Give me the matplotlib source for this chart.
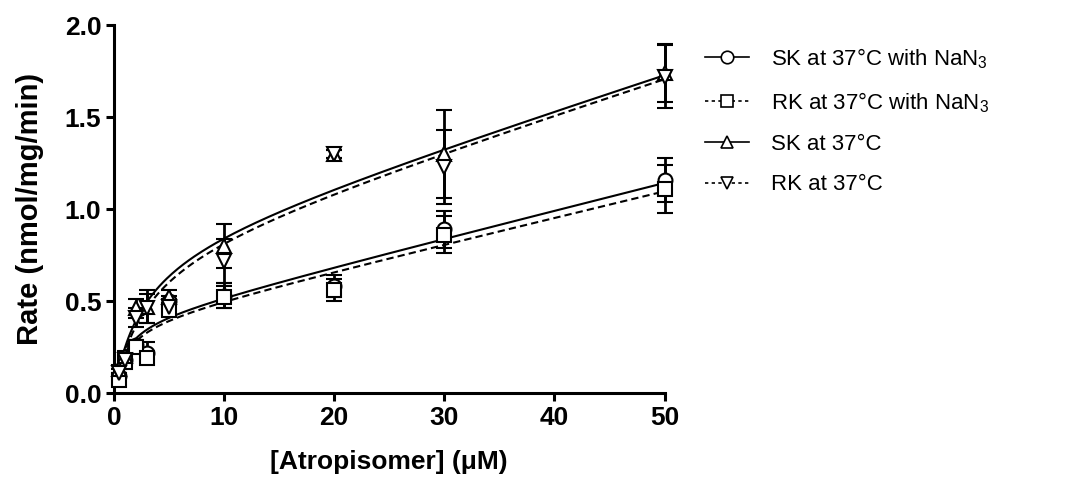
import numpy as np
import matplotlib
matplotlib.use('Agg')
import matplotlib.pyplot as plt
from matplotlib.lines import Line2D

plt.rcParams['font.family'] = ['Liberation Sans', 'DejaVu Sans']
plt.rcParams['mathtext.fontset'] = 'custom'
plt.rcParams['mathtext.rm'] = 'Liberation Sans'
plt.rcParams['mathtext.it'] = 'Liberation Sans'

# concentrations (uM)
conc = [0.5, 1, 2, 3, 5, 10, 20, 30, 50]

labels = ['SK at 37°C with NaN$_3$', 'RK at 37°C with NaN$_3$',
          'SK at 37°C', 'RK at 37°C']

sk_nan3 = [0.09, 0.18, 0.26, 0.22, 0.50, 0.53, 0.58, 0.89, 1.16]
sk_nan3_err = [0.02, 0.02, 0.03, 0.06, 0.03, 0.07, 0.06, 0.10, 0.12]
rk_nan3 = [0.07, 0.17, 0.25, 0.19, 0.45, 0.52, 0.56, 0.86, 1.11]
rk_nan3_err = [0.02, 0.02, 0.03, 0.03, 0.03, 0.06, 0.06, 0.10, 0.13]
sk = [0.13, 0.20, 0.46, 0.47, 0.52, 0.80, 1.30, 1.30, 1.74]
sk_err = [0.02, 0.03, 0.05, 0.09, 0.04, 0.12, 0.02, 0.24, 0.16]
rk = [0.11, 0.18, 0.41, 0.46, 0.47, 0.72, 1.30, 1.23, 1.72]
rk_err = [0.02, 0.03, 0.05, 0.08, 0.04, 0.12, 0.02, 0.20, 0.17]

# fit params: Vmax, Km, linear (nonspecific) slope
fit_sk_nan3 = (0.40, 1.0, 0.015)
fit_rk_nan3 = (0.39, 1.1, 0.0143)
fit_sk = (0.818, 2.59, 0.019)
fit_rk = (0.80, 2.9, 0.019)


def model(x, p):
    vmax, km, ns = p
    return vmax * x / (km + x) + ns * x


def main():
    fig = plt.figure(figsize=(10.65, 4.84), dpi=100)
    ax = fig.add_axes([0.107, 0.188, 0.517, 0.76])

    series = [
        (sk_nan3, sk_nan3_err, fit_sk_nan3, 'o', '-'),
        (rk_nan3, rk_nan3_err, fit_rk_nan3, 's', '--'),
        (sk, sk_err, fit_sk, '^', '-'),
        (rk, rk_err, fit_rk, 'v', '--'),
    ]

    xs = np.linspace(min(conc), max(conc), 300)
    handles = []
    for (vals, errs, fit, mk, ls), lab in zip(series, labels):
        ax.errorbar(conc, vals, yerr=errs, fmt=mk, ms=10, mfc='white', mec='black',
                    mew=1.5, ecolor='black', elinewidth=2, capsize=6, capthick=2,
                    color='black', zorder=3, clip_on=False)
        line, = ax.plot(xs, model(xs, fit), color='black', lw=1.5, ls=ls, zorder=2)
        if ls == '--':
            line.set_dashes((3.5, 2))
        h = Line2D([], [], color='black', lw=1.2, ls=ls, marker=mk, ms=9,
                   mfc='white', mec='black', mew=1.2)
        if ls == '--':
            h.set_dashes((2, 2))
        handles.append(h)

    ax.set_xlim(0, 50)
    ax.set_ylim(0, 2.0)
    ax.set_xticks([0, 10, 20, 30, 40, 50])
    ax.set_yticks([0.0, 0.5, 1.0, 1.5, 2.0])
    ax.set_yticklabels(['0.0', '0.5', '1.0', '1.5', '2.0'])
    for s in ['top', 'right']:
        ax.spines[s].set_visible(False)
    for s in ['left', 'bottom']:
        ax.spines[s].set_linewidth(2.2)
    ax.tick_params(width=2.2, length=6, labelsize=19, direction='out', pad=3)
    for t in ax.get_xticklabels() + ax.get_yticklabels():
        t.set_fontweight('bold')

    ax.set_xlabel('[Atropisomer] (\u03bcM)', fontsize=19, fontweight='bold', labelpad=15)
    ax.set_ylabel('Rate (nmol/mg/min)', fontsize=21, fontweight='bold', labelpad=15)

    fig.legend(handles=handles, labels=labels, loc='upper left',
               bbox_to_anchor=(0.643, 0.946), frameon=False, fontsize=16,
               handlelength=2.0, labelspacing=0.87, handletextpad=1.0)

    fig.savefig('out.png', dpi=100)


if __name__ == '__main__':
    main()
